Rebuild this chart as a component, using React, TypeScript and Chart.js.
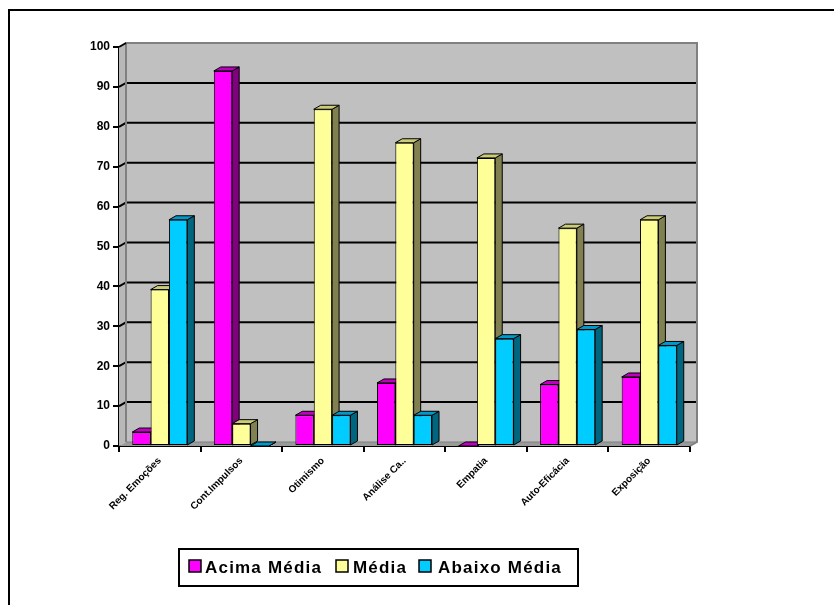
import React, { useEffect, useRef } from "react";
import { Chart, registerables } from "chart.js";

Chart.register(...registerables);

const categories = ["Reg. Emoções", "Cont.Impulsos", "Otimismo", "Análise Ca..", "Empatia", "Auto-Eficácia", "Exposição"];
const acimaMedia = [3.5, 94, 7.7, 15.8, 0, 15.4, 17.3];
const media = [39.2, 5.6, 84.4, 76, 72.2, 54.6, 56.7];
const abaixoMedia = [56.7, 0, 7.7, 7.7, 26.9, 29.2, 25.2];
const seriesNames = ["Acima Média", "Média", "Abaixo Média"];
const yTicks = [0, 10, 20, 30, 40, 50, 60, 70, 80, 90, 100];

const FRONT = ["#FF00FF", "#FFFF99", "#00CCFF"];
const TOP = ["#C000C0", "#CCCC77", "#0099CC"];
const SIDE = ["#800080", "#808050", "#006680"];
const DX = 7;
const DY = 4;
const FONT = "'Liberation Sans', Arial, Helvetica, sans-serif";

function poly(ctx: CanvasRenderingContext2D, pts: number[][], fill: string, stroke?: string, lw = 1) {
  ctx.beginPath();
  ctx.moveTo(pts[0][0], pts[0][1]);
  for (let i = 1; i < pts.length; i++) ctx.lineTo(pts[i][0], pts[i][1]);
  ctx.closePath();
  ctx.fillStyle = fill;
  ctx.fill();
  if (stroke) {
    ctx.strokeStyle = stroke;
    ctx.lineWidth = lw;
    ctx.stroke();
  }
}

const threeD = {
  id: "threeD",
  beforeDatasetsDraw(chart: any) {
    const { ctx, chartArea } = chart;
    const { left, right, top, bottom } = chartArea;
    const y = chart.scales.y;
    ctx.save();
    ctx.fillStyle = "#C0C0C0";
    ctx.fillRect(left + DX, top - DY, right - left, bottom - top);
    poly(ctx, [[left, top], [left + DX, top - DY], [left + DX, bottom - DY], [left, bottom]], "#B8B8B8");
    poly(ctx, [[left, bottom], [left + DX, bottom - DY], [right + DX, bottom - DY], [right, bottom]], "#9A9A9A");
    ctx.strokeStyle = "#000";
    ctx.lineWidth = 2;
    yTicks.forEach((v) => {
      if (v === 0 || v === 100) return;
      const yy = y.getPixelForValue(v);
      ctx.beginPath();
      ctx.moveTo(left, yy);
      ctx.lineTo(left + DX, yy - DY);
      ctx.lineTo(right + DX, yy - DY);
      ctx.stroke();
    });
    ctx.strokeStyle = "#808080";
    ctx.lineWidth = 2;
    ctx.beginPath();
    ctx.moveTo(left + DX, bottom - DY);
    ctx.lineTo(left + DX, top - DY);
    ctx.lineTo(right + DX, top - DY);
    ctx.lineTo(right + DX, bottom - DY);
    ctx.lineTo(right, bottom);
    ctx.stroke();
    ctx.lineWidth = 1;
    ctx.beginPath();
    ctx.moveTo(left + DX, bottom - DY);
    ctx.lineTo(right + DX, bottom - DY);
    ctx.stroke();
    ctx.strokeStyle = "#000";
    ctx.lineWidth = 2;
    ctx.beginPath();
    ctx.moveTo(left, top);
    ctx.lineTo(left + DX, top - DY);
    ctx.stroke();
    chart.data.datasets.forEach((_: any, di: number) => {
      const meta = chart.getDatasetMeta(di);
      meta.data.forEach((bar: any) => {
        const { x, y: by, width, base } = bar.getProps(["x", "y", "width", "base"], true);
        const x1 = x - width / 2;
        const x2 = x + width / 2;
        poly(ctx, [[x2, by], [x2 + DX, by - DY], [x2 + DX, base - DY], [x2, base]], SIDE[di], "#000", 1);
        poly(ctx, [[x1, by], [x1 + DX, by - DY], [x2 + DX, by - DY], [x2, by]], TOP[di], "#000", 1);
      });
    });
    ctx.restore();
  },
  afterDraw(chart: any) {
    const { ctx } = chart;
    ctx.save();
    ctx.fillStyle = "#000";
    ctx.fillRect(8, 9, 826, 2);
    ctx.fillRect(8, 9, 2, 596);
    ctx.strokeStyle = "#000";
    ctx.lineWidth = 2;
    ctx.fillStyle = "#fff";
    ctx.fillRect(179, 549, 399, 37);
    ctx.strokeRect(179, 549, 399, 37);
    const sq = [189, 336, 419];
    const tx = [205, 353, 438];
    ctx.font = `bold 17px ${FONT}`;
    (ctx as any).letterSpacing = "1.2px";
    ctx.textBaseline = "alphabetic";
    seriesNames.forEach((name, i) => {
      ctx.fillStyle = FRONT[i];
      ctx.fillRect(sq[i], 560, 12, 12);
      ctx.lineWidth = 1.5;
      ctx.strokeRect(sq[i], 560, 12, 12);
      ctx.fillStyle = "#000";
      ctx.fillText(name, tx[i], 573);
    });
    ctx.restore();
  },
};

export default function App() {
  const ref = useRef<HTMLCanvasElement>(null);
  useEffect(() => {
    if (!ref.current) return;
    const datasets = [acimaMedia, media, abaixoMedia].map((d, i) => ({
      label: seriesNames[i],
      data: d,
      backgroundColor: FRONT[i],
      borderColor: "#000",
      borderWidth: 1,
      borderSkipped: false as any,
      barPercentage: 1,
      categoryPercentage: 0.675,
    }));
    const chart = new Chart(ref.current, {
      type: "bar",
      data: { labels: categories, datasets },
      options: {
        animation: false,
        responsive: false,
        devicePixelRatio: 1,
        layout: { autoPadding: false, padding: { left: 0, top: 47, right: 144, bottom: 0 } },
        plugins: { legend: { display: false }, tooltip: { enabled: false } },
        font: { family: FONT },
        scales: {
          x: {
            afterFit: (s: any) => {
              s.height = 159;
            },
            grid: { offset: true, drawOnChartArea: false, drawTicks: true, tickLength: 6, color: "#000", lineWidth: 2 },
            border: { display: true, color: "#000", width: 2 },
            ticks: {
              autoSkip: false,
              minRotation: 45,
              maxRotation: 45,
              padding: 3,
              color: "#000",
              font: { family: FONT, size: 10, weight: "bold" },
            },
          },
          y: {
            min: 0,
            max: 100,
            afterFit: (s: any) => {
              s.width = 119;
            },
            afterBuildTicks: (s: any) => {
              s.ticks = yTicks.map((v) => ({ value: v }));
            },
            grid: { drawOnChartArea: false, drawTicks: true, tickLength: 6, color: "#000", lineWidth: 2 },
            border: { display: true, color: "#000", width: 2 },
            ticks: {
              padding: 3,
              color: "#000",
              font: { family: FONT, size: 12, weight: "bold" },
            },
          },
        },
      } as any,
      plugins: [threeD],
    });
    return () => chart.destroy();
  }, []);
  return (
    <div style={{ position: "fixed", left: 0, top: 0, width: 834, height: 605, background: "#fff" }}>
      <canvas ref={ref} width={834} height={605} style={{ width: 834, height: 605, display: "block" }} />
    </div>
  );
}
